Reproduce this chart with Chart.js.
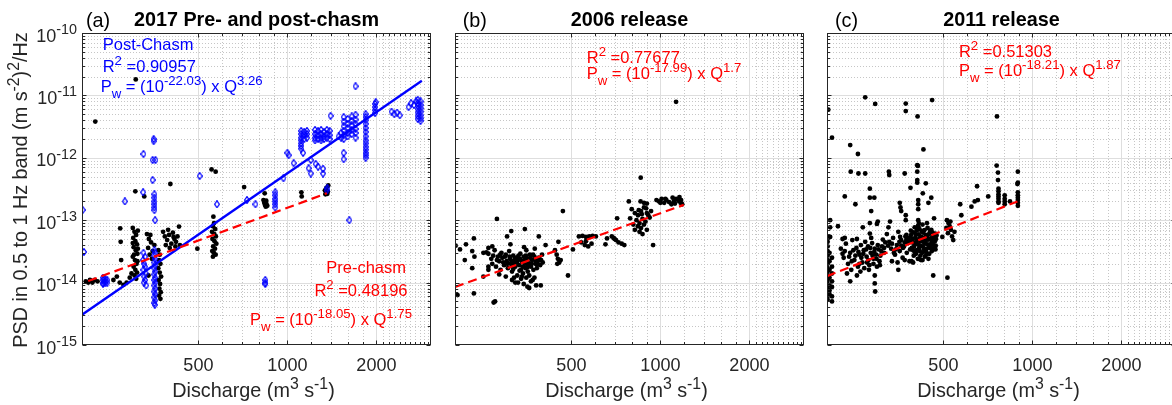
<!DOCTYPE html>
<html>
<head>
<meta charset="utf-8">
<script src="https://cdn.jsdelivr.net/npm/chart.js@4.4.1/dist/chart.umd.min.js"></script>
<style>
  html, body { margin: 0; padding: 0; background: #fff; overflow: hidden; }
  #wrap { position: relative; width: 1172px; height: 405px; overflow: hidden; }
  canvas { position: absolute; top: 0; }
</style>
</head>
<body>
<div id="wrap">
  <canvas id="pa" width="440" height="405" style="left:0px"></canvas>
  <canvas id="pb" width="372" height="405" style="left:440px"></canvas>
  <canvas id="pc" width="372" height="405" style="left:812px"></canvas>
</div>
<script>
// ================= DATA =================
const xMin = 202, xMax = 3060;
const xTickValues = [500, 1000, 2000];
const xMinorValues = [600, 700, 800, 900, 1200, 1400, 1600, 1800,
                      2100, 2200, 2300, 2400, 2500, 2600, 2700, 2800, 2900, 3000];
const yTickValues = [1e-15, 1e-14, 1e-13, 1e-12, 1e-11, 1e-10];

// (a) 2017 pre-chasm, [Q, PSD]
const prePoints = [
  [224,3.8e-12],[307,1.8e-11],
  [208,1.05e-14],[212,1.0e-14],[215,1.1e-14],[219,1.0e-14],[223,1.1e-14],[228,1.05e-14],
  [258,1.1e-14],[265,1.25e-14],[271,1.0e-14],[279,9.2e-15],[286,1.0e-14],[293,1.2e-14],[297,1.4e-14],
  [300,7.5e-14],[304,6.5e-14],[308,5.8e-14],[301,5.2e-14],[306,4.6e-14],[310,4.1e-14],[302,3.7e-14],
  [307,3.3e-14],[311,2.9e-14],[300,2.6e-14],[305,2.3e-14],[309,2.0e-14],[302,1.8e-14],[306,1.6e-14],
  [310,1.45e-14],[304,1.3e-14],[308,1.15e-14],[312,6.8e-14],[300,4.3e-14],[312,3.5e-14],[303,2.8e-14],[311,2.2e-14],
  [306,2.9e-13],[328,2.4e-13],
  [272,7.4e-14],[273,4.5e-14],[274,2.3e-14],
  [335,6.0e-14],[344,5.8e-14],[340,5.0e-14],[346,4.4e-14],[338,3.6e-14],[350,3.2e-14],[342,2.8e-14],
  [355,4.0e-14],[348,2.4e-14],[339,1.3e-14],
  [368,2.3e-14],[372,2.0e-14],[366,1.7e-14],[370,1.45e-14],[374,1.25e-14],[367,1.1e-14],[371,9.5e-15],
  [369,8.0e-15],[373,7.0e-15],[368,6.2e-15],[372,5.5e-15],[366,3.3e-14],[370,2.8e-14],
  [380,6.5e-14],[385,5.5e-14],[392,4.8e-14],[398,5.8e-14],[405,4.2e-14],[410,6.3e-14],[415,5.0e-14],
  [420,4.5e-14],[425,5.5e-14],[430,7.9e-14],[433,4.0e-14],[388,4.0e-14],[400,3.6e-14],[395,7.0e-14],
  [418,3.8e-14],[412,5.4e-14],
  [402,3.8e-13],[496,3.5e-14],
  [562,1.14e-13],[565,9.0e-14],[560,8.0e-14],[570,7.2e-14],[556,6.5e-14],[566,6.0e-14],[573,5.5e-14],
  [558,5.0e-14],[567,4.6e-14],[575,4.2e-14],[561,3.8e-14],[569,3.5e-14],[557,3.2e-14],[564,3.0e-14],
  [572,2.8e-14],[560,2.6e-14],
  [554,6.5e-13],[572,6.0e-13],[714,3.4e-13],[838,2.7e-13],
  [830,2.1e-13],[835,1.9e-13],[840,1.75e-13],[845,1.65e-13],[850,1.8e-13],[838,2.0e-13],[855,1.7e-13],[848,2.05e-13],
  [1115,2.8e-13],[1118,2.4e-13],
  [1340,3.0e-13],[1350,2.7e-13],[1360,2.8e-13],[1370,2.9e-13],[1355,3.3e-13],[1375,3.6e-13],[1345,2.6e-13],[1365,2.65e-13]
];

// (a) 2017 post-chasm, [Q, PSD]
const postPoints = [
  [203,1.46e-13],[205,3.1e-14],
  [238,1.2e-14],[238,1.1e-14],[238,1.0e-14],[238,9.5e-15],[242,1.15e-14],[242,1.05e-14],[242,9.8e-15],[246,1.1e-14],[246,1.0e-14],
  [326,3.0e-14],[330,2.6e-14],[325,2.3e-14],[328,2.0e-14],[330,1.8e-14],[326,1.6e-14],[332,1.4e-14],
  [328,1.25e-14],[330,1.1e-14],[327,1.0e-14],[333,9.0e-15],
  [282,2.0e-13],[326,1.15e-12],[325,2.8e-13],
  [353,2.0e-12],[353,1.85e-12],[350,9.2e-13],[358,9.2e-13],[350,4.4e-13],
  [355,2.6e-13],[355,2.3e-13],[355,2.0e-13],[355,1.8e-13],[355,1.6e-13],[355,1.45e-13],[357,1.0e-13],
  [355,3.3e-14],[357,3.0e-14],[355,2.7e-14],[357,2.4e-14],[355,2.1e-14],[357,1.9e-14],[355,1.7e-14],
  [357,1.5e-14],[355,1.35e-14],[357,1.2e-14],[355,1.1e-14],[357,1.0e-14],[355,9.0e-15],[357,8.0e-15],
  [355,7.2e-15],[357,6.5e-15],[355,5.8e-15],[357,5.2e-15],[355,4.7e-15],[356,4.4e-15],
  [505,5.1e-13],[578,1.8e-13],[730,2.1e-13],[780,1.8e-13],
  [842,1.1e-14],[842,1.0e-14],[842,9.5e-15],
  [910,2.8e-13],[910,2.5e-13],[910,2.2e-13],[910,2.0e-13],[910,1.8e-13],[910,1.6e-13],
  [970,4.7e-13],[1000,1.2e-12],[1010,1.1e-12],[1050,8.2e-13],[1130,1.2e-12],
  [1200,9.2e-13],[1180,6.8e-13],[1200,5.6e-13],[1246,8.0e-13],[1270,7.2e-13],[1320,6.7e-13],[1320,5.6e-13],
  [1360,3.0e-13],[1365,3.3e-13],[1620,1.0e-13],
  [1113,2.7e-12],[1113,2.4e-12],[1113,2.1e-12],[1113,1.9e-12],[1113,1.7e-12],[1113,1.55e-12],[1113,1.4e-12],
  [1140,2.6e-12],[1140,2.3e-12],[1140,2.0e-12],[1165,2.7e-12],[1165,2.4e-12],[1165,2.1e-12],
  [1240,2.8e-12],[1240,2.4e-12],[1240,2.1e-12],[1240,1.9e-12],
  [1270,2.7e-12],[1270,2.3e-12],[1270,2.0e-12],
  [1300,2.8e-12],[1300,2.4e-12],[1300,2.1e-12],[1300,1.9e-12],
  [1330,2.6e-12],[1330,2.2e-12],[1330,2.0e-12],
  [1360,2.8e-12],[1360,2.4e-12],[1360,2.1e-12],
  [1390,2.7e-12],[1390,2.3e-12],[1390,2.0e-12],
  [1400,4.7e-12],
  [1490,2.2e-12],[1520,2.5e-12],[1520,2.1e-12],
  [1550,4.5e-12],[1550,3.8e-12],[1550,3.2e-12],[1550,2.7e-12],[1550,2.3e-12],[1550,2.0e-12],
  [1600,4.2e-12],[1600,3.5e-12],[1600,3.0e-12],[1600,2.5e-12],[1600,2.2e-12],
  [1650,4.6e-12],[1650,3.9e-12],[1650,3.3e-12],[1650,2.8e-12],[1650,2.4e-12],
  [1700,4.9e-12],[1700,4.1e-12],[1700,3.5e-12],[1700,2.9e-12],[1700,2.5e-12],[1700,2.1e-12],
  [1700,1.4e-11],
  [1550,1.2e-12],[1550,9.5e-13],
  [1840,5.0e-12],[1840,4.5e-12],[1840,4.0e-12],[1840,3.5e-12],[1840,3.0e-12],[1840,2.6e-12],[1840,2.2e-12],
  [1840,1.9e-12],[1840,1.7e-12],[1840,1.5e-12],[1840,1.35e-12],[1840,1.2e-12],[1840,1.1e-12],[1840,1.0e-12],
  [1980,7.3e-12],[1980,6.5e-12],[1980,5.8e-12],[1980,5.2e-12],[1990,7.8e-12],
  [2250,5.5e-12],[2300,5.0e-12],[2350,5.3e-12],[2400,4.8e-12],
  [2570,6.5e-12],[2620,7.5e-12],[2680,7.0e-12],[2720,8.0e-12],
  [2760,8.5e-12],[2760,7.5e-12],[2760,6.8e-12],[2760,6.0e-12],[2760,5.3e-12],[2760,4.7e-12],[2760,4.2e-12],
  [2820,8.0e-12],[2820,7.0e-12],[2820,6.2e-12],[2820,5.5e-12],[2820,4.8e-12],[2820,4.3e-12],[2820,3.9e-12]
];

// (b) 2006 release, [Q, PSD]
const release2006 = [
  [1130,7.9e-12],[858,4.8e-13],
  [782,2.0e-13],[857,2.0e-13],[880,1.9e-13],[900,1.85e-13],
  [970,2.1e-13],[990,2.0e-13],[1010,2.2e-13],[1030,1.9e-13],[1048,2.1e-13],[1070,1.95e-13],[1090,1.8e-13],
  [1110,2.0e-13],[1130,2.2e-13],[1150,2.05e-13],[1170,1.9e-13],[1185,1.8e-13],[1160,2.35e-13],[1100,2.3e-13],
  [1000,1.9e-13],[1040,2.2e-13],[1120,1.85e-13],[1175,2.1e-13],
  [714,1.07e-13],[790,1.07e-13],
  [800,1.5e-13],[820,1.3e-13],[840,1.2e-13],[860,1.4e-13],[880,1.6e-13],[900,1.3e-13],[920,1.1e-13],
  [830,1.0e-13],[850,9.0e-14],[870,1.05e-13],[890,9.5e-14],[910,1.2e-13],[840,8.0e-14],[860,7.5e-14],
  [880,8.5e-14],[820,7.0e-14],[850,6.5e-14],[870,6.0e-14],[900,7.0e-14],[810,8.5e-14],[930,1.4e-13],
  [895,1.55e-13],[865,1.25e-13],[845,1.45e-13],
  [945,4.0e-14],[652,4.1e-14],[660,5.1e-14],
  [685,5.5e-14],[695,5.2e-14],[708,4.8e-14],[722,4.4e-14],[740,4.2e-14],[755,4.0e-14],[700,5.0e-14],
  [530,5.5e-14],[545,5.6e-14],[560,5.4e-14],[575,5.5e-14],[590,5.6e-14],[605,5.5e-14],[540,4.4e-14],
  [555,4.0e-14],[570,3.8e-14],[585,4.2e-14],[560,4.6e-14],
  [506,3.4e-14],[468,1.4e-13],
  [388,5.5e-14],[348,7.2e-14],[313,6.7e-14],[280,1.05e-13],[303,5.5e-14],[234,5.1e-14],[220,4.1e-14],
  [210,3.4e-14],[203,3.9e-14],
  [231,3.2e-14],[235,2.6e-14],[218,2.3e-14],[252,3.0e-14],[258,3.05e-14],
  [311,4.1e-14],[346,3.7e-14],[376,3.5e-14],[409,4.0e-14],[352,3.3e-14],[262,3.6e-14],[270,3.8e-14],
  [262,2.9e-14],[268,2.4e-14],[270,2.0e-14],[275,3.3e-14],[278,1.8e-14],[282,2.6e-14],[285,2.2e-14],
  [288,1.6e-14],[290,3.0e-14],[292,2.5e-14],[296,1.9e-14],[300,2.8e-14],[302,2.2e-14],[305,1.7e-14],
  [308,3.2e-14],[310,2.4e-14],[312,2.0e-14],[315,1.5e-14],[318,2.7e-14],[320,2.1e-14],[323,1.8e-14],
  [326,2.5e-14],[328,1.3e-14],[330,2.3e-14],[333,1.9e-14],[336,2.9e-14],[338,1.6e-14],[340,2.2e-14],
  [343,1.4e-14],[345,2.6e-14],[348,2.0e-14],[350,1.7e-14],[353,2.4e-14],[356,1.5e-14],[358,2.1e-14],
  [362,2.8e-14],[365,1.8e-14],[368,2.3e-14],[372,1.6e-14],[375,2.6e-14],[378,2.0e-14],[382,1.7e-14],
  [385,2.2e-14],[388,2.5e-14],[392,1.9e-14],[395,2.3e-14],[398,2.8e-14],[400,2.1e-14],
  [272,2.7e-14],[280,2.3e-14],[287,2.8e-14],[294,2.1e-14],[298,2.6e-14],[304,2.0e-14],[309,2.6e-14],
  [314,2.2e-14],[317,1.85e-14],[322,2.4e-14],[327,2.1e-14],[331,2.7e-14],[335,2.4e-14],[342,1.8e-14],
  [347,2.3e-14],[351,2.7e-14],[357,1.9e-14],[363,2.5e-14],[367,2.0e-14],[371,2.8e-14],[377,2.3e-14],
  [383,2.0e-14],[390,2.4e-14],[334,1.55e-14],[355,1.75e-14],[318,1.65e-14],
  [285,1.35e-14],[300,1.25e-14],[320,1.2e-14],[340,1.25e-14],[360,1.3e-14],[375,1.2e-14],
  [315,1.1e-14],[330,1.0e-14],[345,9.5e-15],[355,8.6e-15],[365,1.05e-14],[380,9.0e-15],[394,9.0e-15],
  [323,1.0e-14],[338,1.15e-14],[352,1.2e-14],[370,1.1e-14],[360,8.2e-15],
  [440,3.3e-14],[446,2.8e-14],[450,2.4e-14],[455,2.1e-14],[448,2.0e-14],[460,2.3e-14],[452,4.5e-14],
  [487,1.3e-14],
  [273,4.8e-15],[276,5.0e-15],[206,6.3e-15],[234,6.7e-15],[252,1.25e-14],[231,1.7e-14],[262,1.8e-14],[262,1.6e-14]
];

// (c) 2011 release, [Q, PSD]
const release2011 = [
  [272,9.3e-12],[294,7.3e-12],[373,7.4e-12],[373,5.6e-12],[409,4.6e-12],[458,8.4e-12],[759,4.6e-12],
  [204,5.9e-12],[210,2.1e-12],[242,1.6e-12],[257,1.15e-12],[243,6.0e-13],[258,5.6e-13],[272,5.6e-13],
  [428,1.36e-12],[408,7.6e-13],[410,7.4e-13],[408,6.0e-13],[327,6.0e-13],[328,5.3e-13],[370,5.6e-13],
  [408,4.4e-13],[408,4.0e-13],[436,3.9e-13],[387,3.3e-13],[282,3.2e-13],[282,2.3e-13],[292,2.3e-13],
  [232,2.4e-13],[252,1.8e-13],[285,1.4e-13],[356,1.9e-13],[358,1.6e-13],[360,1.4e-13],[373,1.2e-13],
  [373,1.0e-13],[411,2.1e-13],[411,1.8e-13],[411,1.5e-13],[426,2.7e-13],[455,2.3e-13],[445,1.9e-13],
  [411,1.0e-13],[413,9.0e-14],[411,8.0e-14],[465,1.07e-13],[300,9.5e-14],[330,9.5e-14],[298,8.7e-14],
  [207,1.0e-13],[220,8.0e-14],[207,7.7e-14],[207,5.4e-14],[232,5.2e-14],[228,5.0e-14],[267,7.7e-14],
  [282,9.0e-14],[282,6.1e-14],[326,7.7e-14],[357,5.4e-14],[375,5.8e-14],[400,7.7e-14],[496,5.4e-14],
  [514,1.0e-13],[520,9.0e-14],[525,8.0e-14],[530,7.0e-14],[518,6.2e-14],[535,5.5e-14],[540,4.8e-14],
  [528,9.5e-14],[545,6.5e-14],[512,7.5e-14],
  [570,1.8e-13],[575,1.2e-13],[622,1.65e-13],[638,2.0e-13],[654,2.1e-13],
  [650,3.5e-13],[709,2.4e-13],[757,7.5e-13],[765,5.8e-13],[765,4.4e-13],
  [768,3.2e-13],[768,2.9e-13],[768,2.6e-13],[768,2.4e-13],[768,2.2e-13],[768,2.0e-13],[768,1.9e-13],
  [806,2.5e-13],[806,2.2e-13],[806,2.0e-13],[806,1.8e-13],[840,2.0e-13],
  [893,6.0e-13],[893,4.0e-13],[890,3.8e-13],[893,2.8e-13],[893,2.5e-13],[893,2.3e-13],[893,2.1e-13],
  [893,1.9e-13],[893,1.7e-13],
  [322,6.0e-14],[328,4.5e-14],[333,3.5e-14],[338,5.2e-14],[343,2.8e-14],[348,4.0e-14],[352,6.5e-14],
  [356,3.2e-14],[360,4.8e-14],[364,2.5e-14],[368,3.8e-14],[372,5.5e-14],[376,3.0e-14],[380,4.3e-14],
  [384,2.2e-14],[388,6.8e-14],[391,3.6e-14],[394,5.0e-14],[397,2.7e-14],[400,4.2e-14],[403,6.0e-14],
  [406,3.3e-14],[409,4.7e-14],[412,2.4e-14],[415,7.2e-14],[418,3.9e-14],[421,5.4e-14],[424,3.0e-14],
  [427,6.3e-14],[430,4.4e-14],[433,2.6e-14],[436,5.8e-14],[439,3.5e-14],[442,7.5e-14],[445,4.9e-14],
  [448,2.9e-14],[451,6.6e-14],[454,4.0e-14],[457,3.2e-14],[460,5.6e-14],[463,4.5e-14],[466,3.7e-14],
  [469,6.1e-14],[472,5.0e-14],[410,8.0e-14],[425,8.5e-14],[440,9.0e-14],[455,7.0e-14],[395,2.1e-14],
  [420,2.3e-14],[445,2.4e-14],[430,3.4e-14],[415,5.1e-14],[400,3.1e-14],[385,4.6e-14],[460,4.1e-14],[470,3.4e-14],
  [382,5.2e-14],[386,3.4e-14],[389,5.8e-14],[392,4.4e-14],[396,6.4e-14],[398,3.8e-14],[402,5.3e-14],
  [404,2.9e-14],[407,6.9e-14],[410,4.1e-14],[413,5.9e-14],[416,3.2e-14],[419,4.6e-14],[422,6.7e-14],
  [426,3.8e-14],[428,5.2e-14],[431,6.9e-14],[434,4.2e-14],[437,3.1e-14],[440,5.4e-14],[443,4.1e-14],
  [447,6.0e-14],[450,3.6e-14],[453,5.1e-14],[456,4.4e-14],[459,6.4e-14],[462,3.4e-14],[465,5.3e-14],
  [468,4.6e-14],[471,3.9e-14],[474,5.7e-14],[414,3.6e-14],[424,4.8e-14],[436,4.7e-14],[448,3.8e-14],
  [458,4.9e-14],[405,4.6e-14],[395,3.3e-14],[418,2.7e-14],[438,2.8e-14],
  [315,3.6e-14],[325,3.9e-14],[335,4.2e-14],[345,3.4e-14],[355,4.5e-14],[365,3.6e-14],[375,4.9e-14],
  [340,3.0e-14],[360,3.9e-14],[370,4.4e-14],
  [335,2.2e-14],[350,2.1e-14],[370,2.3e-14],[390,2.2e-14],[410,2.4e-14],[425,2.3e-14],
  [225,3.5e-14],[230,2.5e-14],[234,4.2e-14],[238,2.0e-14],[242,3.0e-14],[246,4.8e-14],[250,2.3e-14],
  [254,3.6e-14],[257,1.8e-14],[260,2.8e-14],[263,4.0e-14],[266,2.1e-14],[269,3.3e-14],[272,4.5e-14],
  [275,2.6e-14],[278,3.8e-14],[281,1.9e-14],[284,3.0e-14],[287,4.3e-14],[290,2.4e-14],[293,3.5e-14],
  [296,2.8e-14],[300,4.0e-14],[304,2.2e-14],[308,3.2e-14],[244,1.6e-14],[262,1.5e-14],[280,1.6e-14],
  [298,1.8e-14],[236,1.4e-14],[270,1.7e-14],[255,5.0e-14],[285,5.2e-14],
  [228,2.9e-14],[232,3.2e-14],[240,2.6e-14],[248,3.3e-14],[252,2.7e-14],[258,3.1e-14],[264,2.5e-14],
  [268,2.9e-14],[274,3.4e-14],[279,2.3e-14],[283,3.6e-14],[288,2.7e-14],[292,3.1e-14],[297,2.4e-14],
  [302,3.4e-14],[306,2.7e-14],[310,3.8e-14],[315,3.0e-14],[318,4.4e-14],[312,4.9e-14],[245,2.2e-14],
  [260,2.0e-14],[276,2.1e-14],[290,2.0e-14],[305,1.9e-14],
  [203,5.5e-14],[203,4.5e-14],[203,3.8e-14],[203,3.2e-14],[203,2.7e-14],[203,2.3e-14],[203,2.0e-14],
  [203,1.7e-14],[203,1.5e-14],[203,1.3e-14],[203,1.1e-14],[203,9.5e-15],[203,8.0e-15],[203,7.0e-15],
  [203,6.0e-15],[203,5.3e-15],
  [206,3.0e-14],[206,2.2e-14],[206,1.6e-14],[206,1.2e-14],[206,9.0e-15],[206,7.5e-15],[206,6.5e-15],
  [210,2.5e-14],[210,1.8e-14],[210,1.4e-14],[210,1.05e-14],[210,8.5e-15],[210,6.0e-15],[210,5.0e-15],
  [242,1.05e-14],[255,1.3e-14],[293,1.3e-14],[293,9.7e-15],[294,7.2e-15],[352,1.6e-14],[462,1.3e-14],[516,1.2e-14]
];

// fitted lines, endpoints
const postFit = [[202, 3.06e-15], [2850, 1.72e-11]];
const preFit = [[212, 1.06e-14], [1360, 2.7e-13]];
const fit2006 = [[202, 8.5e-15], [1200, 1.76e-13]];
const fit2011 = [[202, 1.27e-14], [890, 2.0e-13]];

// ================= STYLE =================
const FONT = '"Liberation Sans", Arial, Helvetica, sans-serif';
const AXIS_TEXT = '#262626';
const BLUE = '#0000ff';
const RED = '#ff0000';

const yMinorValues = [];
yTickValues.slice(0, -1).forEach(d => {
  for (let m = 2; m <= 9; m++) yMinorValues.push(m * d);
});

const toXY = pts => pts.map(p => ({ x: p[0], y: p[1] }));

// open blue diamond marker, taller than wide like matlab's 'd'
const diamondMark = document.createElement('canvas');
diamondMark.width = 6;
diamondMark.height = 8;
(() => {
  const g = diamondMark.getContext('2d');
  g.strokeStyle = BLUE;
  g.lineWidth = 1.2;
  g.beginPath();
  g.moveTo(3, 0.6); g.lineTo(5.4, 4); g.lineTo(3, 7.4); g.lineTo(0.6, 4);
  g.closePath();
  g.stroke();
})();

// ================= RICH TEXT (^{} and _{}) =================
function richText(ctx, str, x, y, size, color, align) {
  const segs = [];
  let buf = '', i = 0;
  while (i < str.length) {
    const c = str[i];
    if ((c === '^' || c === '_') && str[i + 1] === '{') {
      if (buf) { segs.push({ t: buf, k: 0 }); buf = ''; }
      const end = str.indexOf('}', i);
      segs.push({ t: str.slice(i + 2, end), k: c === '^' ? 1 : -1 });
      i = end + 1;
    } else { buf += c; i++; }
  }
  if (buf) segs.push({ t: buf, k: 0 });

  const small = size * 0.8;
  let w = 0;
  segs.forEach(s => {
    ctx.font = (s.k ? small : size) + 'px ' + FONT;
    s.w = ctx.measureText(s.t).width;
    w += s.w;
  });
  let cx = align === 'right' ? x - w : align === 'center' ? x - w / 2 : x;
  ctx.fillStyle = color;
  ctx.textAlign = 'left';
  ctx.textBaseline = 'alphabetic';
  segs.forEach(s => {
    ctx.font = (s.k ? small : size) + 'px ' + FONT;
    const dy = s.k === 1 ? -size * 0.42 : s.k === -1 ? size * 0.38 : 0;
    ctx.fillText(s.t, cx, y + dy);
    cx += s.w;
  });
}

// ================= AXES PLUGIN =================
const matlabAxes = {
  id: 'matlabAxes',
  beforeDatasetsDraw(chart) {
    const { ctx, chartArea: a, scales: { x, y } } = chart;
    const vline = px => { px = Math.round(px) + 0.5; ctx.beginPath(); ctx.moveTo(px, a.top); ctx.lineTo(px, a.bottom); ctx.stroke(); };
    const hline = py => { py = Math.round(py) + 0.5; ctx.beginPath(); ctx.moveTo(a.left, py); ctx.lineTo(a.right, py); ctx.stroke(); };
    ctx.save();
    ctx.beginPath();
    ctx.rect(a.left, a.top, a.right - a.left, a.bottom - a.top);
    ctx.clip();
    ctx.lineWidth = 1;
    ctx.strokeStyle = '#c6c6c6';
    ctx.setLineDash([1, 2]);
    xMinorValues.forEach(v => vline(x.getPixelForValue(v)));
    yMinorValues.forEach(v => hline(y.getPixelForValue(v)));
    ctx.setLineDash([]);
    ctx.strokeStyle = '#dedede';
    xTickValues.forEach(v => vline(x.getPixelForValue(v)));
    yTickValues.forEach(v => hline(y.getPixelForValue(v)));
    ctx.restore();
  },
  afterDatasetsDraw(chart, args, opts) {
    const { ctx, chartArea: a, scales: { x, y } } = chart;
    const L = Math.round(a.left) + 0.5, R = Math.round(a.right) - 0.5;
    const T = Math.round(a.top) + 0.5, B = Math.round(a.bottom) - 0.5;
    ctx.save();
    ctx.strokeStyle = AXIS_TEXT;
    ctx.lineWidth = 1;
    ctx.strokeRect(L, T, R - L, B - T);
    const tick = (x1, y1, x2, y2) => { ctx.beginPath(); ctx.moveTo(x1, y1); ctx.lineTo(x2, y2); ctx.stroke(); };
    const yt = (v, len) => { const p = Math.round(y.getPixelForValue(v)) + 0.5; tick(L, p, L + len, p); tick(R, p, R - len, p); };
    const xt = (v, len) => { const p = Math.round(x.getPixelForValue(v)) + 0.5; tick(p, B, p, B - len); tick(p, T, p, T + len); };
    yTickValues.forEach(v => yt(v, 4));
    yMinorValues.forEach(v => yt(v, 2.5));
    xTickValues.forEach(v => xt(v, 4));
    xMinorValues.forEach(v => xt(v, 2.5));

    // y tick labels and title
    if (opts.yLabels) {
      yTickValues.forEach(v => {
        const p = y.getPixelForValue(v);
        richText(ctx, '10^{' + Math.round(Math.log10(v)) + '}', a.left - 5, p + 8.6, 18, AXIS_TEXT, 'right');
      });
      ctx.save();
      ctx.translate(27, (a.top + a.bottom) / 2 + 1);
      ctx.rotate(-Math.PI / 2);
      richText(ctx, 'PSD in 0.5 to 1 Hz band (m s^{-2})^{2}/Hz', 0, 0, 19.8, AXIS_TEXT, 'center');
      ctx.restore();
    }
    // x title
    richText(ctx, 'Discharge (m^{3} s^{-1})', (a.left + a.right) / 2 - 3, 397, 19.8, AXIS_TEXT, 'center');

    // panel letter
    ctx.font = '19.8px ' + FONT;
    ctx.fillStyle = '#000';
    ctx.textAlign = 'left';
    ctx.textBaseline = 'alphabetic';
    ctx.fillText(opts.label, a.left + opts.labelDx, 26.5);

    // fit annotations
    (opts.notes || []).forEach(n => {
      const px = a.left + n.fx * (a.right - a.left);
      const py = a.top + n.fy * (a.bottom - a.top);
      richText(ctx, n.text, px, py, 16.5, n.color, n.align);
    });
    ctx.restore();
  }
};

// ================= DATASETS =================
function dots(pts) {
  return { data: toXY(pts), pointRadius: 2.4, pointHoverRadius: 2.4, pointBackgroundColor: '#000', pointBorderWidth: 0, order: 2 };
}
function diamonds(pts) {
  return { data: toXY(pts), pointStyle: diamondMark, pointRadius: 3, pointHoverRadius: 3, order: 1 };
}
function fitLine(pts, color, dash) {
  return { data: toXY(pts), showLine: true, borderColor: color, borderWidth: dash ? 2.2 : 2.3,
           borderDash: dash ? [9, 5] : [], pointRadius: 0, pointHoverRadius: 0, order: 0 };
}

// ================= PANELS =================
function makePanel(id, cfg) {
  return new Chart(document.getElementById(id), {
    type: 'scatter',
    data: { datasets: cfg.datasets },
    options: {
      responsive: false,
      animation: false,
      devicePixelRatio: 1,
      events: [],
      layout: { padding: { left: 0, right: cfg.padRight, top: 0, bottom: 0 } },
      plugins: {
        legend: { display: false },
        tooltip: { enabled: false },
        title: {
          display: true, text: cfg.title, color: '#000', fullSize: false,
          font: { family: FONT, size: 19.8, weight: 'bold' },
          padding: { top: 9.1, bottom: 0.14 }
        },
        matlabAxes: { label: cfg.label, labelDx: cfg.labelDx, notes: cfg.notes, yLabels: cfg.yLabels }
      },
      scales: {
        x: {
          type: 'logarithmic', min: xMin, max: xMax,
          afterBuildTicks: s => { s.ticks = xTickValues.map(v => ({ value: v })); },
          afterFit: s => { s.height = 60; },
          grid: { display: false, drawTicks: false },
          border: { display: false },
          ticks: { color: AXIS_TEXT, font: { family: FONT, size: 18 }, padding: 10,
                   maxRotation: 0, autoSkip: false, callback: v => String(v) }
        },
        y: {
          type: 'logarithmic', min: 1e-15, max: 1e-10,
          afterBuildTicks: s => { s.ticks = yTickValues.map(v => ({ value: v })); },
          afterFit: s => { s.width = cfg.yWidth; },
          grid: { display: false, drawTicks: false },
          border: { display: false },
          ticks: { display: false }
        }
      }
    },
    plugins: [matlabAxes]
  });
}

makePanel('pa', {
  title: '2017 Pre- and post-chasm', label: '(a)', labelDx: 4, yLabels: true,
  yWidth: 82, padRight: 9,
  datasets: [fitLine(preFit, RED, true), fitLine(postFit, BLUE, false), diamonds(postPoints), dots(prePoints)],
  notes: [
    { text: 'Post-Chasm', fx: 0.0593, fy: 0.0545, align: 'left', color: BLUE },
    { text: 'R^{2} =0.90957', fx: 0.0593, fy: 0.124, align: 'left', color: BLUE },
    { text: 'P_{w} = (10^{-22.03}) x Q^{3.26}', fx: 0.0536, fy: 0.188, align: 'left', color: BLUE },
    { text: 'Pre-chasm', fx: 0.9284, fy: 0.770, align: 'right', color: RED },
    { text: 'R^{2} =0.48196', fx: 0.9327, fy: 0.843, align: 'right', color: RED },
    { text: 'P_{w} = (10^{-18.05}) x Q^{1.75}', fx: 0.9456, fy: 0.936, align: 'right', color: RED }
  ]
});

makePanel('pb', {
  title: '2006 release', label: '(b)', labelDx: 7.7, yLabels: false,
  yWidth: 15, padRight: 8,
  datasets: [fitLine(fit2006, RED, true), dots(release2006)],
  notes: [
    { text: 'R^{2} =0.77677', fx: 0.3774, fy: 0.095, align: 'left', color: RED },
    { text: 'P_{w} = (10^{-17.99}) x Q^{1.7}', fx: 0.3774, fy: 0.148, align: 'left', color: RED }
  ]
});

makePanel('pc', {
  title: '2011 release', label: '(c)', labelDx: 8, yLabels: false,
  yWidth: 15, padRight: 8,
  datasets: [fitLine(fit2011, RED, true), dots(release2011)],
  notes: [
    { text: 'R^{2} =0.51303', fx: 0.378, fy: 0.076, align: 'left', color: RED },
    { text: 'P_{w} = (10^{-18.21}) x Q^{1.87}', fx: 0.378, fy: 0.138, align: 'left', color: RED }
  ]
});
</script>
</body>
</html>
